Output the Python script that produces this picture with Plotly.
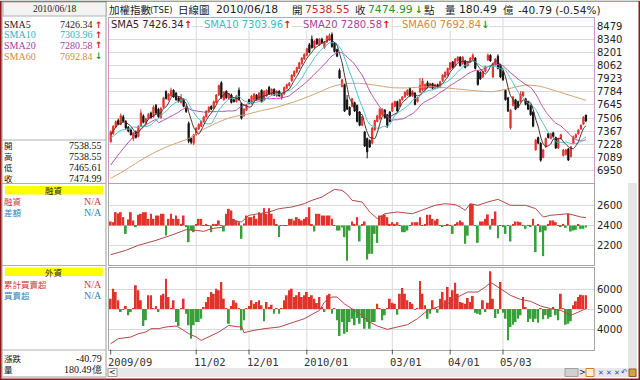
import plotly.graph_objects as go
import pandas as pd

# ---------------- data ----------------
month_ticks = [0, 34, 55, 78, 112, 135, 156]
month_labels = ["2009/09", "11/02", "12/01", "2010/01", "03/01", "04/01", "05/03"]
price_ticks = [6950, 7089, 7228, 7367, 7506, 7645, 7784, 7923, 8062, 8201, 8340, 8479]
margin_ticks = [2200, 2400, 2600]
foreign_ticks = [4000, 5000, 6000]

opens = [7256, 7340, 7410, 7480, 7440, 7520, 7470, 7410, 7380, 7290,
         7360, 7310, 7420, 7530, 7450, 7500, 7560, 7520, 7640, 7600,
         7510, 7620, 7785, 7700, 7740, 7800, 7770, 7720, 7670, 7700,
         7620, 7450, 7290, 7240, 7330, 7390, 7420, 7470, 7520, 7570,
         7630, 7610, 7670, 7750, 7880, 7700, 7790, 7710, 7750, 7700,
         7680, 7800, 7660, 7530, 7590, 7700, 7660, 7700, 7750, 7700,
         7800, 7700, 7740, 7830, 7750, 7810, 7740, 7790, 7720, 7760,
         7820, 7850, 7900, 7950, 7990, 8030, 8080, 8130, 8170, 8280,
         8340, 8250, 8340, 8280, 8340, 8250, 8310, 8330, 8390, 8300,
         8230, 8010, 7840, 7860, 7700, 7620, 7630, 7670, 7640, 7570,
         7430, 7360, 7290, 7270, 7240, 7380, 7470, 7500, 7540, 7590,
         7540, 7570, 7580, 7630, 7680, 7630, 7700, 7730, 7750, 7820,
         7740, 7770, 7680, 7780, 7800, 7810, 7880, 7830, 7870, 7820,
         7860, 7830, 7900, 7940, 7960, 8020, 8100, 8060, 8110, 8150,
         8080, 8110, 8060, 8100, 8130, 8140, 8000, 7990, 7940, 8000,
         8120, 8170, 7940, 8070, 8160, 8070, 8000, 7800, 7720, 7400,
         7640, 7700, 7680, 7680, 7740, 7710, 7680, 7640, 7570, 7170,
         7300, 7240, 7090, 7200, 7340, 7290, 7350, 7300, 7190, 7290,
         7110, 7120, 7180, 7100, 7240, 7300, 7340, 7390, 7440, 7538.55]
highs = [7375, 7430, 7480, 7500, 7555, 7540, 7485, 7420, 7395, 7360,
         7375, 7430, 7597, 7545, 7510, 7560, 7575, 7640, 7655, 7615,
         7625, 7730, 7800, 7770, 7827, 7810, 7780, 7735, 7760, 7715,
         7640, 7470, 7300, 7340, 7410, 7450, 7480, 7530, 7590, 7630,
         7640, 7690, 7760, 7860, 7895, 7790, 7800, 7770, 7765, 7710,
         7750, 7830, 7670, 7610, 7650, 7710, 7750, 7770, 7760, 7780,
         7810, 7800, 7810, 7845, 7820, 7820, 7800, 7800, 7770, 7840,
         7870, 7885, 7970, 8010, 8050, 8100, 8150, 8190, 8250, 8300,
         8380, 8330, 8350, 8350, 8355, 8320, 8380, 8400, 8412, 8310,
         8240, 8030, 7920, 7870, 7750, 7630, 7720, 7680, 7650, 7580,
         7530, 7370, 7300, 7280, 7410, 7490, 7540, 7610, 7610, 7600,
         7550, 7580, 7670, 7690, 7690, 7710, 7740, 7790, 7810, 7830,
         7800, 7780, 7730, 7930, 7930, 7870, 7900, 7880, 7880, 7870,
         7870, 7900, 7970, 8000, 8040, 8100, 8110, 8140, 8160, 8160,
         8160, 8120, 8110, 8150, 8190, 8150, 8010, 8000, 8010, 8060,
         8190, 8180, 8090, 8140, 8180, 8080, 8010, 7810, 7730, 7600,
         7740, 7710, 7690, 7790, 7790, 7720, 7690, 7650, 7580, 7285,
         7310, 7250, 7180, 7300, 7350, 7350, 7360, 7310, 7300, 7340,
         7180, 7180, 7190, 7210, 7320, 7345, 7390, 7440, 7525, 7538.55]
lows = [7245, 7330, 7400, 7430, 7430, 7460, 7390, 7355, 7320, 7262,
        7290, 7300, 7410, 7450, 7440, 7490, 7500, 7510, 7550, 7510,
        7500, 7610, 7700, 7690, 7730, 7720, 7690, 7670, 7660, 7620,
        7560, 7240, 7230, 7220, 7320, 7380, 7410, 7460, 7510, 7560,
        7590, 7600, 7660, 7740, 7710, 7690, 7710, 7700, 7660, 7670,
        7670, 7690, 7490, 7520, 7580, 7650, 7650, 7690, 7690, 7690,
        7670, 7690, 7730, 7750, 7740, 7740, 7730, 7730, 7700, 7750,
        7810, 7840, 7890, 7940, 7980, 8020, 8070, 8120, 8160, 8190,
        8240, 8240, 8280, 8270, 8290, 8240, 8300, 8320, 8250, 8200,
        8150, 7920, 7830, 7570, 7590, 7530, 7620, 7570, 7460, 7420,
        7420, 7200, 7080, 7190, 7230, 7370, 7460, 7490, 7530, 7500,
        7400, 7460, 7570, 7620, 7570, 7620, 7690, 7720, 7740, 7730,
        7730, 7640, 7670, 7770, 7790, 7800, 7820, 7820, 7810, 7810,
        7820, 7820, 7890, 7930, 7950, 8010, 8030, 8050, 8100, 8050,
        8070, 8030, 8050, 8090, 8120, 8020, 7850, 7910, 7930, 7990,
        8110, 8100, 7930, 8060, 8020, 7930, 7900, 7690, 7570, 7385,
        7630, 7590, 7610, 7670, 7730, 7640, 7590, 7530, 7410, 7160,
        7230, 7045, 7080, 7190, 7290, 7280, 7300, 7180, 7180, 7280,
        7100, 7110, 7052, 7090, 7230, 7290, 7330, 7380, 7435, 7465.61]
closes = [7362, 7420, 7468, 7440, 7530, 7470, 7400, 7370, 7330, 7350,
          7300, 7420, 7560, 7460, 7500, 7545, 7510, 7620, 7560, 7520,
          7610, 7720, 7714, 7760, 7800, 7730, 7700, 7680, 7720, 7630,
          7575, 7260, 7250, 7330, 7400, 7440, 7470, 7520, 7580, 7620,
          7600, 7680, 7750, 7850, 7720, 7780, 7720, 7760, 7670, 7680,
          7740, 7700, 7505, 7600, 7640, 7660, 7740, 7760, 7700, 7770,
          7680, 7790, 7800, 7760, 7810, 7750, 7790, 7740, 7760, 7830,
          7860, 7875, 7960, 8000, 8040, 8090, 8140, 8180, 8240, 8200,
          8250, 8320, 8290, 8340, 8300, 8310, 8370, 8380, 8260, 8210,
          8160, 7930, 7910, 7580, 7600, 7540, 7710, 7580, 7470, 7430,
          7520, 7210, 7150, 7200, 7400, 7480, 7530, 7600, 7600, 7510,
          7430, 7470, 7660, 7680, 7580, 7700, 7730, 7780, 7800, 7740,
          7790, 7650, 7720, 7850, 7900, 7860, 7830, 7870, 7820, 7860,
          7830, 7890, 7960, 7990, 8030, 8090, 8040, 8130, 8150, 8060,
          8150, 8040, 8100, 8140, 8170, 8030, 7860, 7920, 8000, 8050,
          8170, 8110, 8080, 8130, 8030, 7940, 7910, 7700, 7580, 7590,
          7730, 7600, 7620, 7760, 7780, 7650, 7600, 7540, 7420, 7275,
          7240, 7060, 7170, 7290, 7300, 7340, 7310, 7190, 7290, 7330,
          7168, 7168, 7062, 7203, 7309, 7330, 7380, 7430, 7516, 7474.99]

# moving-average values read where the line starts before a full window exists
sma5_head_idx, sma5_head = [0, 1, 2, 3], [7327, 7370, 7410, 7440]
sma10_head_idx, sma10_head = [0, 4, 8], [7292, 7375, 7395]
sma20_head_idx, sma20_head = [0, 4, 9, 14, 18], [7010, 7151, 7309, 7432, 7490]
sma60_idx = [0, 6, 11, 18, 24, 31, 36, 43, 48, 54, 60, 66, 75, 82, 88, 93, 99, 105,
             112, 118, 127, 138, 145, 152, 158, 165, 171, 178, 184, 189]
sma60_val = [6869, 6960, 7045, 7150, 7220, 7290, 7375, 7465, 7515, 7545, 7585, 7620,
             7697, 7770, 7838, 7870, 7873, 7855, 7827, 7825, 7838, 7813, 7795, 7785,
             7815, 7855, 7840, 7785, 7735, 7693]

# 融資 panel: daily change bars (drawn from the 2400 line) and balance line
margin_base = 2400
margin_change = [40, 33, 132, 120, 132, 83, -83, 60, 132, 50,
                 -16, 106, 116, 132, 132, 66, 116, 66, 99, 99,
                 116, 116, -99, 66, 116, 66, 99, 66, 16, 99,
                 -16, -165, -50, -66, 10, 66, 66, 5, 16, 5,
                 -66, 16, 10, 50, 5, -59, 116, 165, 149, 66,
                 50, 33, -132, 20, 99, 83, 83, 99, 66, 132,
                 116, 172, 116, 172, 116, 66, 10, -115, 5, 5,
                 5, 66, 66, 50, 83, 66, 50, 66, 83, 181,
                 10, -59, 116, 116, 99, 99, 99, 99, 66, 5,
                 -50, -50, -20, -115, -350, -50, 40, 16, 83, -158,
                 10, 40, -337, -280, -280, -83, -172, 99, 99, 109,
                 83, 16, 33, 16, 33, 5, -66, -66, -50, 5,
                 33, 33, 33, 83, 5, 10, 106, 106, 66, 50,
                 66, 5, -10, 5, 16, 5, -83, 10, 33, 50,
                 33, -181, -100, 214, 214, 5, -172, 40, 40, 66,
                 109, -40, 66, 139, -125, 5, -10, -83, 5, -158,
                 10, 40, 40, 33, 5, -33, 5, -16, 66, -264,
                 10, -66, -303, -50, 16, 50, 50, 33, 5, -16,
                 16, -23, 116, -59, -50, -43, 10, -33, -33, -20]
margin_idx = [0, 6, 11, 18, 24, 30, 34, 37, 40, 45, 48, 52, 55, 59, 63, 67, 72, 77,
              80, 84, 89, 92, 94, 96, 100, 103, 106, 109, 114, 120, 125, 129, 133,
              137, 139, 141, 143, 146, 150, 154, 159, 165, 169, 172, 175, 179, 182,
              187, 189]
margin_balance = [2111, 2154, 2204, 2253, 2303, 2359, 2352, 2342, 2369, 2385, 2451,
                  2435, 2501, 2517, 2534, 2567, 2583, 2616, 2649, 2682, 2758, 2748,
                  2710, 2649, 2633, 2534, 2468, 2517, 2534, 2517, 2567, 2600, 2616,
                  2607, 2583, 2550, 2616, 2600, 2633, 2659, 2600, 2600, 2567, 2484,
                  2501, 2511, 2517, 2484, 2478]

# 外資 panel: daily net buy/sell bars (drawn from the 5000 line) and cumulative line
foreign_base = 5000
foreign_net = [517, 1017, 850, 433, -150, -50, 150, -317, -150, 50,
               1183, 933, 433, -850, -567, 683, 683, 30, 150, -150,
               683, 767, 1517, 600, 30, 433, -650, -850, 30, 517,
               -233, -817, -1483, -817, -650, -650, -483, 100, 350, 600,
               850, 767, 1017, 933, 1350, 517, 30, -733, 150, 433,
               317, 30, -1067, -567, 30, 150, 433, 267, 350, 433,
               183, -617, 350, 100, 217, -233, 30, -233, 30, 433,
               683, 933, 1017, 600, 683, 850, 600, 683, 850, 600,
               683, 517, 300, 600, 100, -150, 683, 767, -233, 30,
               -567, -1350, -650, -1233, -1150, -650, -483, -817, -450, -733,
               -450, -983, -650, -983, -650, -650, 267, 30, -567, -317,
               30, 517, 317, 267, -283, 767, 1050, 767, 433, 350,
               267, -50, 30, 1400, 767, 183, -483, -233, 433, 30,
               -183, 517, 850, 433, 1100, 600, 933, 1317, 767, 350,
               317, 267, 550, 350, 650, -183, -233, -283, 433, -150,
               317, 1883, 517, -450, -233, 1350, -183, -483, -1567, -900,
               -783, -650, -483, -317, 600, 100, -650, -483, -650, -483,
               -683, 30, -517, -317, -483, -400, 100, -317, -567, 767,
               30, -783, -733, -617, 183, 383, 600, 717, 683, 683]
foreign_idx = [0, 3, 8, 11, 14, 16, 19, 22, 26, 28, 31, 34, 36, 39, 43, 47, 51, 52,
               53, 57, 61, 67, 71, 77, 83, 85, 88, 90, 93, 96, 99, 103, 106, 110,
               114, 118, 122, 126, 130, 134, 138, 142, 146, 149, 151, 152, 155,
               159, 163, 167, 171, 175, 179, 183, 186, 189]
foreign_cum = [3265, 3515, 3599, 3765, 3849, 4015, 4015, 4099, 4149, 4015, 3765,
               3599, 3432, 3599, 3849, 4182, 4099, 4149, 3815, 3932, 4015, 4099,
               4265, 4515, 4932, 5349, 5599, 5599, 5250, 5000, 4765, 4349, 4149,
               3982, 4099, 4215, 4515, 4932, 5099, 5266, 5599, 5849, 5849, 6099,
               6316, 6266, 6016, 5682, 5482, 5382, 5149, 5016, 4932, 4682, 4849,
               5016]

# ---------------- derived moving averages ----------------
N = len(closes)
idx = list(range(N))
cs = pd.Series(closes)


def sma_line(head_idx, head_val, window):
    roll = cs.rolling(window).mean()
    xs = list(head_idx) + list(range(window - 1, N))
    ys = list(head_val) + list(roll.iloc[window - 1:])
    return xs, ys


sma5_x, sma5_y = sma_line(sma5_head_idx, sma5_head, 5)
sma10_x, sma10_y = sma_line(sma10_head_idx, sma10_head, 10)
sma20_x, sma20_y = sma_line(sma20_head_idx, sma20_head, 20)

# ---------------- geometry helpers ----------------
W, H = 640, 380


def X(p):
    return p / W


def Y(p):
    return 1 - p / H


XR = [-0.68, 192.2]
XPX = [109, 594]
XD = [X(XPX[0]), X(XPX[1])]
main_dom = [Y(182.5), Y(17.5)]
sub1_dom = [Y(265), Y(184)]
sub2_dom = [Y(349.5), Y(268)]


def idx_px(t):
    return XPX[0] + (t - XR[0]) * (XPX[1] - XPX[0]) / (XR[1] - XR[0])


RED = "#e3322c"
GREEN = "#3a9f3a"
C5, C10, C20, C60 = "#4a2c2c", "#45c0c8", "#b04aa8", "#d4a06c"
PURPLE_FRAME = "#c99ac9"
GRAY_FRAME = "#a6a6a6"
GRID = "#dadada"

fig = go.Figure()

fig.add_trace(go.Candlestick(
    x=idx, open=opens, high=highs, low=lows, close=closes,
    increasing=dict(line=dict(color=RED, width=1), fillcolor=RED),
    decreasing=dict(line=dict(color="#111111", width=1), fillcolor="#111111"),
    whiskerwidth=0, xaxis="x", yaxis="y", hoverinfo="skip", showlegend=False))
for xs, ys, col in [(sma60_idx, sma60_val, C60), (sma20_x, sma20_y, C20),
                    (sma10_x, sma10_y, C10), (sma5_x, sma5_y, C5)]:
    fig.add_trace(go.Scatter(x=xs, y=ys, mode="lines",
                             line=dict(color=col, width=1, shape="spline", smoothing=0.6),
                             xaxis="x", yaxis="y", hoverinfo="skip", showlegend=False))

fig.add_trace(go.Bar(x=idx, y=margin_change, base=margin_base, width=0.74,
                     marker=dict(color=[RED if v >= 0 else GREEN for v in margin_change],
                                 line=dict(width=0)),
                     xaxis="x2", yaxis="y2", hoverinfo="skip", showlegend=False))
fig.add_trace(go.Scatter(x=margin_idx, y=margin_balance, mode="lines",
                         line=dict(color="#b04848", width=1),
                         xaxis="x2", yaxis="y2", hoverinfo="skip", showlegend=False))
fig.add_trace(go.Bar(x=idx, y=foreign_net, base=foreign_base, width=0.74,
                     marker=dict(color=[RED if v >= 0 else GREEN for v in foreign_net],
                                 line=dict(width=0)),
                     xaxis="x3", yaxis="y3", hoverinfo="skip", showlegend=False))
fig.add_trace(go.Scatter(x=foreign_idx, y=foreign_cum, mode="lines",
                         line=dict(color="#b04848", width=1),
                         xaxis="x3", yaxis="y3", hoverinfo="skip", showlegend=False))

tickfont = dict(family="DejaVu Sans", size=10, color="#222222")


def xax(anchor, color):
    return dict(domain=XD, range=XR, anchor=anchor, showgrid=False, zeroline=False,
                showticklabels=False, ticks="", showline=True, mirror=True,
                linecolor=color, linewidth=1, rangeslider=dict(visible=False),
                fixedrange=True)


def yax(anchor, dom, rng, tv, color):
    return dict(domain=dom, range=rng, anchor=anchor, side="right", tickvals=tv,
                ticktext=[str(v) for v in tv], tickfont=tickfont, showgrid=True,
                gridcolor=GRID, gridwidth=1, zeroline=False, ticks="",
                showline=True, mirror=True, linecolor=color, linewidth=1,
                fixedrange=True)


shapes = []
annotations = []


def rect(x0, y0, x1, y1, fill=None, line=None, lw=1, layer="above"):
    shapes.append(dict(type="rect", xref="paper", yref="paper",
                       x0=X(x0), x1=X(x1), y0=Y(y1), y1=Y(y0),
                       fillcolor=fill if fill else "rgba(0,0,0,0)",
                       line=dict(color=line if line else "rgba(0,0,0,0)", width=lw if line else 0),
                       layer=layer))


def hline(x0, x1, y, color, lw=1):
    shapes.append(dict(type="line", xref="paper", yref="paper", x0=X(x0), x1=X(x1),
                       y0=Y(y), y1=Y(y), line=dict(color=color, width=lw)))


def text(x, y, s, color="#111111", size=10, family="DejaVu Sans", anchor="left", bg=None,
         align="left"):
    a = dict(xref="paper", yref="paper", x=X(x), y=Y(y), text=s, showarrow=False,
             xanchor=anchor, yanchor="middle", align=align,
             font=dict(family=family, size=size, color=color), borderpad=0)
    if bg:
        a["bgcolor"] = bg
    annotations.append(a)


def col_span(s, c):
    return "<span style='color:" + c + "'>" + s + "</span>"


# vertical month gridlines in each panel
for dom in [main_dom, sub1_dom, sub2_dom]:
    for t in month_ticks[1:]:
        shapes.append(dict(type="line", xref="x", yref="paper", x0=t, x1=t,
                           y0=dom[0], y1=dom[1], line=dict(color=GRID, width=1),
                           layer="below"))
# x tick marks and labels below the last panel
for t, lab in zip(month_ticks, month_labels):
    shapes.append(dict(type="line", xref="x3", yref="paper", x0=t, x1=t,
                       y0=Y(349.5), y1=Y(354.5), line=dict(color="#555555", width=1)))
    text(idx_px(t) - 3.5, 361.5, lab, "#333333", 10.5, "DejaVu Sans Mono")

# ---------- decorations ----------
SERIF = "Liberation Serif"
CJK = "Noto Sans CJK TC"
LBL = 8.5  # CJK label size; multi-line blocks keep rows ~11px apart
# right gray band and bottom scroll strip
rect(628, 183, 637, 368, fill="#e6e6e6")
rect(107, 368, 637, 377, fill="#e8e8e8")
rect(108, 368.5, 117, 376.5, fill="#ffffff", line="#9a9a9a")
text(112.5, 372.5, "<", "#222222", 8, anchor="center")
rect(565, 368.5, 578, 376.5, fill="#d0d0d0", line="#a0a0a0")
text(582.5, 372.5, ">", "#222222", 8, anchor="center")
rect(586, 368.5, 594, 376.5, fill="#fff1d6", line="#e07a20")
for bx in [597, 605, 613]:
    text(bx + 3.5, 372.5, "✕", "#2c4fd0", 7, anchor="center")
text(623.5, 372.5, "↶", "#2c4fd0", 8, anchor="center")
rect(629, 369, 636, 376.5, fill="#d9a04a", line="#8a5a20")

# left panel
rect(2, 1, 106, 377, fill="#ffffff", line="#9c9c9c", layer="below")
rect(3, 2, 106, 16, fill="#f3f3f3", line="#b0b0b0")
text(54.5, 9, "2010/06/18", "#222222", 9.5, SERIF, anchor="center")
sma_rows = [("SMA5", "7426.34", "#2a2020", "↑", "#d42020", 24.5),
            ("SMA10", "7303.96", "#2fb4c0", "↑", "#d42020", 35),
            ("SMA20", "7280.58", "#a8409f", "↑", "#d42020", 45.5),
            ("SMA60", "7692.84", "#d08a48", "↓", "#1e9a1e", 56)]
for lab, val, col, arr, acol, yy in sma_rows:
    text(3, yy, lab, col, 10, SERIF)
    text(94, yy, val, col, 10, SERIF, anchor="right")
    text(98.5, yy, "<b>" + arr + "</b>", acol, 9, anchor="center")
hline(2, 106, 140, "#b0b0b0")
text(3, 161.8, "開<br>高<br>低<br>收", "#111111", LBL, CJK)
for val, yy in [("7538.55", 145.5), ("7538.55", 156.3), ("7465.61", 167.2), ("7474.99", 178)]:
    text(103, yy, val, "#111111", 10, SERIF, anchor="right")
hline(2, 106, 183.5, "#b0b0b0")
rect(5, 186, 103, 194.5, fill="#ffff00")
text(54, 190.3, "融資", "#222222", LBL, CJK, anchor="center")
text(3, 206.8, col_span("融資", "#d03a3a") + "<br>" + col_span("差額", "#2f7fc0"),
     "#d03a3a", LBL, CJK)
text(103, 201.3, "N/A", "#d03a3a", 10, SERIF, anchor="right")
text(103, 212.3, "N/A", "#2f7fc0", 10, SERIF, anchor="right")
hline(2, 106, 265.5, "#b0b0b0")
rect(5, 267.5, 103, 276, fill="#ffff00")
text(54, 271.8, "外資", "#222222", LBL, CJK, anchor="center")
text(3, 289.5, col_span("累計買賣超", "#d03a3a") + "<br>" + col_span("買賣超", "#2f7fc0"),
     "#d03a3a", LBL, CJK)
text(103, 284, "N/A", "#d03a3a", 10, SERIF, anchor="right")
text(103, 295, "N/A", "#2f7fc0", 10, SERIF, anchor="right")
hline(2, 106, 350, "#b0b0b0")
text(3, 363.5, "漲跌<br>量", "#111111", LBL, CJK)
text(103, 358, "-40.79", "#111111", 10, SERIF, anchor="right")
text(103, 369, "180.49億", "#111111", 10, SERIF, anchor="right")

# title row
TF = "DejaVu Sans"
text(108, 9.5, "加權指數", "#222222", 10.5, CJK)
text(149, 10, "(TSE)", "#222222", 8.5, TF)
text(177, 9.5, "日線圖", "#222222", 10.5, CJK)
text(215, 9.5, "2010/06/18", "#222222", 10.8, TF)
text(291, 9.5, "開", "#222222", 10.5, CJK)
text(304, 9.5, "7538.55", "#d02a2a", 10.8, TF)
text(354, 9.5, "收", "#222222", 10.5, CJK)
text(367, 9.5, "7474.99", "#1e9a1e", 10.8, TF)
text(414, 9.5, "<b>↓</b>", "#1e9a1e", 9.5, TF)
text(423, 9.5, "點", "#222222", 10.5, CJK)
text(444, 9.5, "量", "#222222", 10.5, CJK)
text(458, 9.5, "180.49", "#222222", 10.8, TF)
text(502, 9.5, "億", "#222222", 10.5, CJK)
text(517, 9.5, "-40.79 (-0.54%)", "#222222", 10.5, TF)

# legend row inside the main panel
for s, col, arr, acol, xx in [("SMA5 7426.34", "#3a2222", "↑", "#d42020", 110),
                              ("SMA10 7303.96", "#35bcc6", "↑", "#d42020", 202.5),
                              ("SMA20 7280.58", "#a8409f", "↑", "#d42020", 301.5),
                              ("SMA60 7692.84", "#d08a48", "↓", "#1e9a1e", 400.5)]:
    text(xx, 25, s + col_span("<b>" + arr + "</b>", acol), col, 10, TF, bg="#ffffff")

# outer dark-red frame
rect(0.5, 0.5, 639.5, 379.5, line="#8b1c1c", lw=2)
hline(0, 640, 0.5, "#d8d8d8", 1)

fig.update_layout(
    width=W, height=H, margin=dict(l=0, r=0, t=0, b=0),
    paper_bgcolor="#ffffff", plot_bgcolor="#ffffff", showlegend=False,
    xaxis=xax("y", PURPLE_FRAME), yaxis=yax("x", main_dom, [6825, 8569], price_ticks, PURPLE_FRAME),
    xaxis2=xax("y2", GRAY_FRAME), yaxis2=yax("x2", sub1_dom, [2009, 2811], margin_ticks, GRAY_FRAME),
    xaxis3=xax("y3", GRAY_FRAME), yaxis3=yax("x3", sub2_dom, [2975, 7050], foreign_ticks, GRAY_FRAME),
    shapes=shapes, annotations=annotations, barmode="overlay",
)

fig.write_html("out.html", config={"displayModeBar": False},
               post_script="document.body.style.margin='0';document.body.style.padding='0';")
